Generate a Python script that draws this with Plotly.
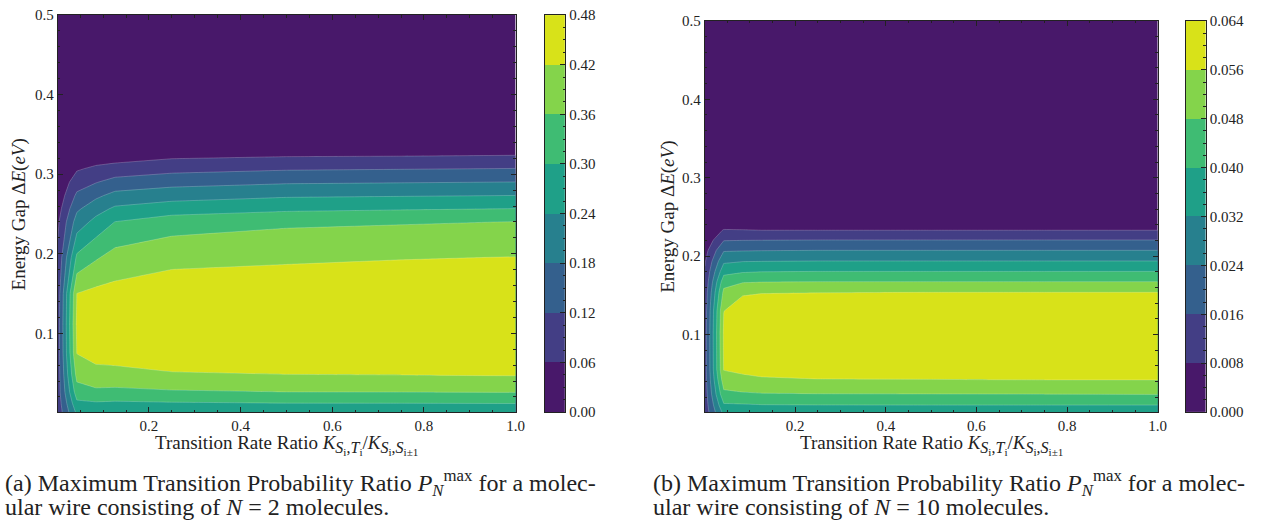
import numpy as np
import plotly.graph_objects as go

# ---------------- data ----------------
X_RATIO = [0.001, 0.0426, 0.0842, 0.1258, 0.25, 0.5, 0.75, 1.0]

# (a) N = 2 : energy-gap rows and P profiles for each ratio column
Y_N2 = [0.001, 0.012, 0.026, 0.047, 0.075, 0.11, 0.15, 0.1955, 0.24, 0.2565,
        0.273, 0.29, 0.307, 0.3235, 0.34, 0.40, 0.50]
P_N2_X0001 = [0.080, 0.085, 0.090, 0.090, 0.090, 0.090, 0.085, 0.070, 0.050, 0.035, 0.020, 0.010, 0.004, 0.000, 0, 0, 0]
P_N2_X0043 = [0.2526, 0.287, 0.3316, 0.378, 0.4212, 0.430, 0.4205, 0.311, 0.207, 0.170, 0.1315, 0.092, 0.053, 0.015, 0.0, 0, 0]
P_N2_X0084 = [0.251, 0.293, 0.346, 0.400, 0.440, 0.445, 0.435, 0.353, 0.2585, 0.2157, 0.168, 0.117, 0.071, 0.026, 0.0, 0, 0]
P_N2_X0126 = [0.250, 0.290, 0.342, 0.404, 0.440, 0.450, 0.440, 0.382, 0.301, 0.2505, 0.199, 0.141, 0.083, 0.029, 0.0, 0, 0]
P_N2_X0250 = [0.249, 0.294, 0.352, 0.414, 0.450, 0.460, 0.450, 0.405, 0.330, 0.2717, 0.2167, 0.1588, 0.1005, 0.047, 0.001, 0, 0]
P_N2_X0500 = [0.249, 0.299, 0.359, 0.418, 0.456, 0.466, 0.457, 0.411, 0.349, 0.288, 0.233, 0.173, 0.113, 0.055, 0.002, 0, 0]
P_N2_X0750 = [0.250, 0.2995, 0.3595, 0.419, 0.459, 0.469, 0.461, 0.417, 0.355, 0.295, 0.237, 0.177, 0.117, 0.057, 0.003, 0, 0]
P_N2_X1000 = [0.250, 0.301, 0.361, 0.421, 0.460, 0.470, 0.462, 0.421, 0.361, 0.301, 0.241, 0.181, 0.121, 0.061, 0.004, 0, 0]

# (b) N = 10
Y_N10 = [0.001, 0.0101, 0.0237, 0.0423, 0.055, 0.08, 0.1, 0.13, 0.1536, 0.1672,
         0.1803, 0.1936, 0.2072, 0.2204, 0.2328, 0.246, 0.3, 0.5]
P_N10_X0001 = [0.0110, 0.0115, 0.0120, 0.0125, 0.0125, 0.0125, 0.0125, 0.0120, 0.0110, 0.0098, 0.0088, 0.0072, 0.0050, 0.0020, 0, 0, 0, 0]
P_N10_X0043 = [0.0343, 0.0390, 0.0459, 0.0525, 0.0562, 0.0568, 0.0570, 0.0559, 0.0500, 0.0448, 0.0373, 0.0305, 0.0233, 0.0155, 0.0087, 0.0012, 0, 0]
P_N10_X0084 = [0.0343, 0.0393, 0.0469, 0.0541, 0.0575, 0.0595, 0.0600, 0.0595, 0.0552, 0.0473, 0.0392, 0.0316, 0.0236, 0.0158, 0.0085, 0.0005, 0, 0]
P_N10_X0126 = [0.0345, 0.0398, 0.0474, 0.0552, 0.0580, 0.0605, 0.0612, 0.0605, 0.0557, 0.0478, 0.0398, 0.0318, 0.0238, 0.0159, 0.0081, 0.0004, 0, 0]
P_N10_X0250 = [0.0346, 0.0400, 0.0477, 0.0558, 0.0584, 0.0610, 0.0618, 0.0608, 0.0559, 0.0481, 0.0401, 0.0321, 0.0241, 0.0161, 0.0081, 0.0004, 0, 0]
P_N10_X0500 = [0.0346, 0.0401, 0.0478, 0.0559, 0.0585, 0.0611, 0.0619, 0.0609, 0.0561, 0.0481, 0.0401, 0.0321, 0.0241, 0.0161, 0.0081, 0.0004, 0, 0]
P_N10_X0750 = [0.0346, 0.0401, 0.0479, 0.0561, 0.0585, 0.0612, 0.0620, 0.0610, 0.0561, 0.0481, 0.0401, 0.0321, 0.0241, 0.0161, 0.0081, 0.0004, 0, 0]
P_N10_X1000 = [0.0346, 0.0401, 0.0481, 0.0561, 0.0585, 0.0612, 0.0620, 0.0610, 0.0561, 0.0481, 0.0401, 0.0321, 0.0241, 0.0161, 0.0081, 0.0004, 0, 0]

LEVELS_N2 = [0.00, 0.06, 0.12, 0.18, 0.24, 0.30, 0.36, 0.42, 0.48]
LEVELS_N10 = [0.000, 0.008, 0.016, 0.024, 0.032, 0.040, 0.048, 0.056, 0.064]

BAND_COLORS = ['#48186a', '#433e85', '#34608d', '#27808e',
               '#1fa088', '#3fbc73', '#84d44b', '#d8e219']

CAPTION_A = ("(a) Maximum Transition Probability Ratio <i>P</i><sub><i>N</i></sub><sup>max</sup> for a molec-",
             "ular wire consisting of <i>N</i> = 2 molecules.")
CAPTION_B = ("(b) Maximum Transition Probability Ratio <i>P</i><sub><i>N</i></sub><sup>max</sup> for a molec-",
             "ular wire consisting of <i>N</i> = 10 molecules.")
XTITLE = ("Transition Rate Ratio <i>K</i><sub><span style=\"font-size:16px\"><i>S</i><sub>i</sub>,<i>T</i><sub>i</sub></span></sub>"
          "/<i>K</i><sub><span style=\"font-size:16px\"><i>S</i><sub>i</sub>,<i>S</i><sub>i±1</sub></span></sub>")
YTITLE = "Energy Gap Δ<i>E</i>(<i>eV</i>)"

# ---------------- figure ----------------
W, H = 1271, 529
FONT = "Liberation Serif"
INK = "#222222"

Z_N2 = np.array([P_N2_X0001, P_N2_X0043, P_N2_X0084, P_N2_X0126,
                 P_N2_X0250, P_N2_X0500, P_N2_X0750, P_N2_X1000]).T
Z_N10 = np.array([P_N10_X0001, P_N10_X0043, P_N10_X0084, P_N10_X0126,
                  P_N10_X0250, P_N10_X0500, P_N10_X0750, P_N10_X1000]).T

CS = [[k / 7.0, c] for k, c in enumerate(BAND_COLORS)]


def px_x(p):
    return p / W


def px_y(p):
    return (H - p) / H


fig = go.Figure()


def add_panel(z, ys, levels, xa, ya, xc, yc):
    step = levels[1] - levels[0]
    fig.add_trace(go.Contour(
        x=X_RATIO, y=ys, z=z, xaxis=xa, yaxis=ya,
        autocontour=False,
        contours=dict(start=levels[1], end=levels[-2], size=step,
                      coloring='fill', showlines=True),
        line=dict(width=0.6, color='rgba(255,255,255,0.35)', smoothing=0),
        colorscale=CS, showscale=False, hoverinfo='skip'))
    mids = [(levels[i] + levels[i + 1]) / 2 for i in range(len(levels) - 1)]
    fig.add_trace(go.Heatmap(
        x=[0, 1], y=levels, z=[[m] for m in mids], xaxis=xc, yaxis=yc,
        colorscale=CS, zmin=mids[0], zmax=mids[-1], showscale=False,
        hoverinfo='skip'))


add_panel(Z_N2, Y_N2, LEVELS_N2, 'x', 'y', 'x2', 'y2')
add_panel(Z_N10, Y_N10, LEVELS_N10, 'x3', 'y3', 'x4', 'y4')

tickfont = dict(family=FONT, size=15, color=INK)


def main_x(dom, anchor):
    return dict(domain=dom, anchor=anchor, range=[0.001, 1.0], tick0=0, dtick=0.2,
                tickformat='.1f', ticks='inside', ticklen=5, tickwidth=1, tickcolor=INK,
                minor=dict(ticks='inside', dtick=0.05, tick0=0, ticklen=2.5, tickcolor=INK),
                showline=True, linecolor=INK, linewidth=1, mirror='ticks',
                showgrid=False, zeroline=False, tickfont=tickfont)


def main_y(dom, anchor):
    return dict(domain=dom, anchor=anchor, range=[0.001, 0.5], tick0=0, dtick=0.1,
                tickformat='.1f', ticks='inside', ticklen=5, tickwidth=1, tickcolor=INK,
                minor=dict(ticks='inside', dtick=0.02, tick0=0, ticklen=2.5, tickcolor=INK),
                showline=True, linecolor=INK, linewidth=1, mirror='ticks',
                showgrid=False, zeroline=False, tickfont=tickfont)


def cbar_x(dom, anchor):
    return dict(domain=dom, anchor=anchor, range=[0, 1], showticklabels=False,
                ticks='', showline=True, linecolor=INK, linewidth=1, mirror=True,
                showgrid=False, zeroline=False)


def cbar_y(dom, anchor, levels, fmt, minor_step):
    return dict(domain=dom, anchor=anchor, range=[levels[0], levels[-1]], side='right',
                tickvals=levels, tickformat=fmt, ticks='inside', ticklen=5,
                tickcolor=INK, minor=dict(ticks='inside', dtick=minor_step,
                                          tick0=0, ticklen=2.5, tickcolor=INK),
                showline=True, linecolor=INK, linewidth=1, mirror=True,
                showgrid=False, zeroline=False, tickfont=tickfont)


ydom_a = [px_y(416.7), px_y(7.3)]
ydom_b = [px_y(416.7), px_y(13.3)]

fig.update_layout(
    width=W, height=H, margin=dict(l=0, r=0, t=0, b=0),
    paper_bgcolor='white', plot_bgcolor='white', showlegend=False,
    font=dict(family=FONT, color=INK),
    xaxis=main_x([px_x(58.2), px_x(519.3)], 'y'),
    yaxis=main_y(ydom_a, 'x'),
    xaxis2=cbar_x([px_x(548.7), px_x(569.3)], 'y2'),
    yaxis2=cbar_y(ydom_a, 'x2', LEVELS_N2, '.2f', 0.015),
    xaxis3=main_x([px_x(709.9), px_x(1166.0)], 'y3'),
    yaxis3=main_y(ydom_b, 'x3'),
    xaxis4=cbar_x([px_x(1194.3), px_x(1214.3)], 'y4'),
    yaxis4=cbar_y(ydom_b, 'x4', LEVELS_N10, '.3f', 0.002),
)

ann = []
title_font = dict(family=FONT, size=19, color=INK)
cap_font = dict(family=FONT, size=24, color=INK)
for cx, ycen, ytx in [(288.7, 213, 19), (938.0, 215, 673)]:
    ann.append(dict(text=XTITLE, x=px_x(cx), y=px_y(451), xref='paper', yref='paper',
                    xanchor='center', yanchor='middle', showarrow=False, font=title_font))
    ann.append(dict(text=YTITLE, x=px_x(ytx), y=px_y(ycen), xref='paper', yref='paper',
                    xanchor='center', yanchor='middle', textangle=-90, showarrow=False,
                    font=title_font))
for cx, cap in [(3, CAPTION_A), (656, CAPTION_B)]:
    ann.append(dict(text=cap[0], x=px_x(cx), y=px_y(490), xref='paper', yref='paper',
                    xanchor='left', yanchor='middle', showarrow=False, font=cap_font))
    ann.append(dict(text=cap[1], x=px_x(cx), y=px_y(515), xref='paper', yref='paper',
                    xanchor='left', yanchor='middle', showarrow=False, font=cap_font))
fig.update_layout(annotations=ann)

fig.write_html("out.html")
